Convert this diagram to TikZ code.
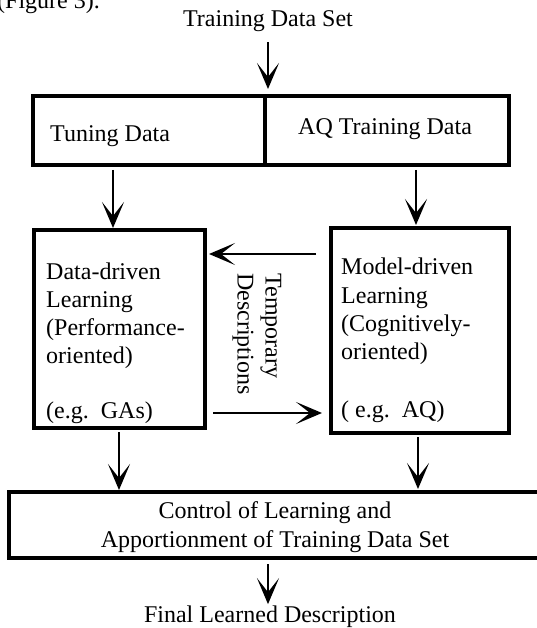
\documentclass[tikz,border=0pt]{standalone}
\usepackage{fontspec}
\setmainfont{Liberation Serif}
\usetikzlibrary{arrows.meta}
\begin{document}
\begin{tikzpicture}[x=1pt,y=-1pt,
  txt/.style={inner sep=0pt, font=\fontsize{24}{28}\selectfont},
  ltxt/.style={txt, anchor=base west},
  frame/.style={draw, line width=3.2pt, inner sep=0pt, outer sep=0pt, anchor=north west},
  arr/.style={line width=2.8pt, -{Stealth[length=26pt,width=22pt,inset=14pt]}}]
\useasboundingbox (0,0) rectangle (537,628);

% caption fragment and input label
\node[ltxt] (fig) at (-3,9) {(Figure 3).};
\node[txt, anchor=base] (tds) at (268,27) {Training Data Set};

% split of the training data
\node[frame, minimum width=232pt, minimum height=69pt] (tuning) at (33,96) {};
\node[frame, minimum width=244pt, minimum height=69pt] (aqdata) at (265,96) {};
\node[ltxt] (tuningtxt) at (50,142) {Tuning Data};
\node[ltxt] (aqtxt) at (298,135) {AQ Training Data};

% the two learners
\node[frame, minimum width=171pt, minimum height=198pt] (lbox) at (34,230) {};
\node[frame, minimum width=178pt, minimum height=205pt] (rbox) at (331,228) {};

\node[ltxt] (l1) at (46,279) {Data-driven};
\node[ltxt] (l2) at (46,307) {Learning};
\node[ltxt] (l3) at (46,335) {(Performance-};
\node[ltxt] (l4) at (46,363) {oriented)};
\node[ltxt] (l5) at (46,418) {(e.g.\ \ GAs)};

\node[ltxt] (r1) at (341,274) {Model-driven};
\node[ltxt] (r2) at (341,303) {Learning};
\node[ltxt] (r3) at (341,331) {(Cognitively-};
\node[ltxt] (r4) at (341,359) {oriented)};
\node[ltxt] (r5) at (341,417) {( e.g.\ \ AQ)};

\node[txt, rotate=-90, align=left] (temp) at (257,334) {Temporary\\Descriptions};

% control and output
\node[frame, minimum width=540pt, minimum height=66pt] (ctrl) at (9,492) {};
\node[txt, anchor=base] (c1) at (275,518) {Control of Learning and};
\node[txt, anchor=base] (c2) at (275,547) {Apportionment of Training Data Set};
\node[txt, anchor=base] (fin) at (270,622) {Final Learned Description};

% connectors
\draw[arr, shorten <=10pt, shorten >=7pt] (tds.south) -- (tds.south |- tuning.north);
\coordinate (ta) at (113,170);
\draw[arr, shorten >=2pt] (ta) -- (ta |- lbox.north);
\coordinate (tb) at (416,170);
\draw[arr, shorten >=3pt] (tb) -- (tb |- rbox.north);
\coordinate (fb) at (316,254);
\draw[arr, shorten >=4pt] (fb) -- (fb -| lbox.east);
\coordinate (ff) at (213,413);
\draw[arr, shorten >=9pt] (ff) -- (ff -| rbox.west);
\coordinate (da) at (119,432);
\draw[arr, shorten >=2pt] (da) -- (da |- ctrl.north);
\coordinate (db) at (418,437);
\draw[arr, shorten >=3pt] (db) -- (db |- ctrl.north);
\coordinate (fa) at (268,564);
\draw[arr, shorten >=1pt] (fa) -- (fa |- fin.north);
\end{tikzpicture}
\end{document}
